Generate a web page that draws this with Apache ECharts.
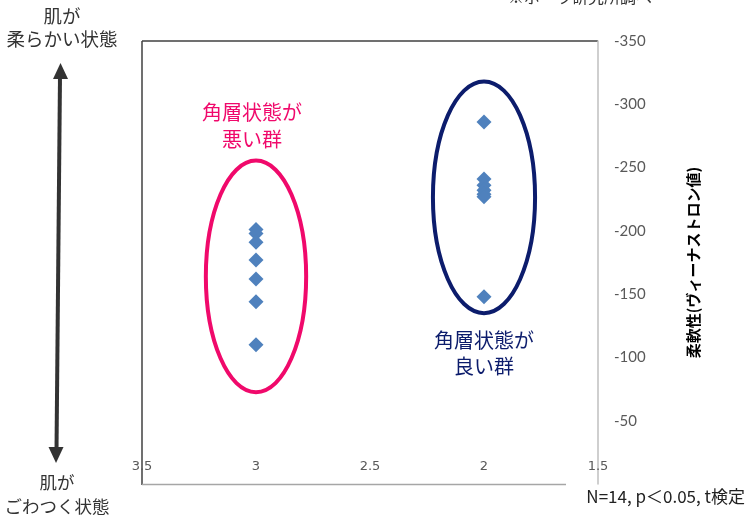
<!DOCTYPE html>
<html>
<head>
<meta charset="utf-8">
<script src="https://cdn.jsdelivr.net/npm/echarts@6/dist/echarts.min.js"></script>
<style>
html,body{margin:0;padding:0;background:#fff;}
#c{width:746px;height:518px;}
</style>
</head>
<body>
<div id="c"></div>
<script>
// ---- data ----
const xTickValues = [3.5, 3, 2.5, 2, 1.5];
const yTickValues = [-350, -300, -250, -200, -150, -100, -50];
const poorGroupX = 3;
const poorGroupValues = [-201, -198, -191, -177, -162, -144, -110];
const goodGroupX = 2;
const goodGroupValues = [-286, -241, -236, -232, -229, -227, -148];
// ellipses: [centerX, centerY, radiusX, radiusY] in data units
const groupEllipses = [[3, -164, 0.22, 91.5], [2, -226.5, 0.224, 91.5]];
const groupNames = ['角層状態が\n悪い群', '角層状態が\n良い群'];
const yAxisTitle = '柔軟性(ヴィーナストロン値)';
const noteText = 'N=14, p＜0.05, t検定';
const sourceText = '※ポーラ研究所調べ';

const JP = '"Noto Sans CJK JP", "Noto Sans", sans-serif';
const ellipseColors = ['#f0096b', '#0c1c6c'];

const chart = echarts.init(document.getElementById('c'));

const scatterData = poorGroupValues.map(v => [poorGroupX, v])
  .concat(goodGroupValues.map(v => [goodGroupX, v]));

chart.setOption({
  animation: false,
  grid: {left: 142, right: 148, top: 41, bottom: 34},
  xAxis: {
    type: 'value', min: 1.5, max: 3.5, interval: 0.5, inverse: true,
    axisLine: {show: false}, axisTick: {show: false}, splitLine: {show: false},
    axisLabel: {inside: true, margin: 11, color: '#595959', fontSize: 13,
      fontFamily: '"DejaVu Sans", sans-serif',
      formatter: v => xTickValues.indexOf(v) >= 0 ? String(v) : ''}
  },
  yAxis: {
    type: 'value', position: 'right', inverse: true, min: -350, max: 0, interval: 50,
    axisLine: {show: true, lineStyle: {color: '#bfbfbf', width: 1.5}},
    axisTick: {show: false}, splitLine: {show: false},
    axisLabel: {margin: 16, color: '#595959', fontSize: 15, fontFamily: 'Lato, "Open Sans", sans-serif',
      formatter: v => yTickValues.indexOf(v) >= 0 ? String(v) : ''},
    name: yAxisTitle, nameLocation: 'middle', nameRotate: 90, nameGap: 88,
    nameTextStyle: {color: '#000', fontSize: 15, fontWeight: 'bold', fontFamily: JP}
  },
  series: [
    {
      type: 'custom',
      data: groupEllipses,
      silent: true,
      z: 1,
      renderItem: function (params, api) {
        const c = api.coord([api.value(0), api.value(1)]);
        const s = api.size([api.value(2), api.value(3)]);
        return {
          type: 'ellipse',
          shape: {cx: c[0], cy: c[1], rx: s[0], ry: s[1]},
          style: {fill: 'none', stroke: ellipseColors[params.dataIndex], lineWidth: 4}
        };
      }
    },
    {
      type: 'scatter',
      data: scatterData,
      symbol: 'diamond',
      symbolSize: 15,
      itemStyle: {color: '#4f81bd', opacity: 1},
      z: 3
    }
  ],
  graphic: [
    {type: 'line', shape: {x1: 142, y1: 41, x2: 598, y2: 41}, style: {stroke: '#404040', lineWidth: 1.5}},
    {type: 'line', shape: {x1: 142, y1: 41, x2: 142, y2: 485}, style: {stroke: '#404040', lineWidth: 1.5}},
    {type: 'line', shape: {x1: 142, y1: 484.5, x2: 566, y2: 484.5}, style: {stroke: '#a6a6a6', lineWidth: 1.5}},
    // left arrow
    {type: 'line', shape: {x1: 60, y1: 76, x2: 56.5, y2: 450}, style: {stroke: '#333', lineWidth: 4}},
    {type: 'polygon', shape: {points: [[60.5, 63], [53, 79], [68, 79]]}, style: {fill: '#333'}},
    {type: 'polygon', shape: {points: [[56, 463], [48.5, 447], [63.5, 447]]}, style: {fill: '#333'}},
    {type: 'text', style: {x: 62, y: 27, text: '肌が\n柔らかい状態', textAlign: 'center', textVerticalAlign: 'middle',
      fill: '#333', font: '18.5px ' + JP, lineHeight: 23}},
    {type: 'text', style: {x: 57, y: 494, text: '肌が\nごわつく状態', textAlign: 'center', textVerticalAlign: 'middle',
      fill: '#333', font: '17.5px ' + JP, lineHeight: 24}},
    // group labels
    {type: 'text', style: {x: 252, y: 125.5, text: groupNames[0], textAlign: 'center', textVerticalAlign: 'middle',
      fill: ellipseColors[0], font: '20px ' + JP, lineHeight: 27}},
    {type: 'text', style: {x: 484, y: 353, text: groupNames[1], textAlign: 'center', textVerticalAlign: 'middle',
      fill: ellipseColors[1], font: '20px ' + JP, lineHeight: 26}},
    // notes
    {type: 'text', style: {x: 745, y: 497, text: noteText, textAlign: 'right', textVerticalAlign: 'middle',
      fill: '#222', font: '17px ' + JP}},
    {type: 'text', style: {x: 580, y: -3, text: sourceText, textAlign: 'center', textVerticalAlign: 'middle',
      fill: '#333', font: '16px ' + JP}}
  ]
});
</script>
</body>
</html>
